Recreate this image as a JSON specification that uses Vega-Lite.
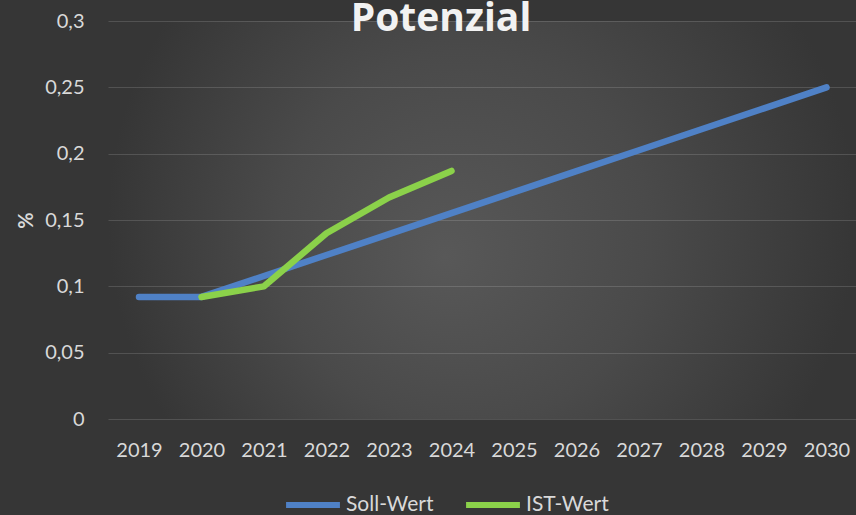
{
  "$schema": "https://vega.github.io/schema/vega-lite/v6.json",
  "width": 748,
  "height": 398,
  "autosize": {"type": "none"},
  "padding": {"left": 108, "top": 21, "right": 0, "bottom": 96},
  "background": "#363636",
  "view": {
    "stroke": null,
    "fill": {
      "gradient": "radial",
      "x1": 0.45, "y1": 0.55, "r1": 0,
      "x2": 0.5, "y2": 0.5, "r2": 0.5,
      "stops": [
        {"offset": 0, "color": "#585858"},
        {"offset": 0.5, "color": "#4a4a4a"},
        {"offset": 1, "color": "#363636"}
      ]
    }
  },
  "title": {
    "text": "Potenzial",
    "font": "Open Sans",
    "fontSize": 39,
    "fontWeight": "bold",
    "color": "#f2f2f2",
    "anchor": "middle",
    "baseline": "alphabetic",
    "offset": -59,
    "dx": -41
  },
  "data": {
    "values": [
      {"Jahr": 2019, "Serie": "Soll-Wert", "Wert": 0.092},
      {"Jahr": 2020, "Serie": "Soll-Wert", "Wert": 0.092},
      {"Jahr": 2021, "Serie": "Soll-Wert", "Wert": 0.1078},
      {"Jahr": 2022, "Serie": "Soll-Wert", "Wert": 0.1236},
      {"Jahr": 2023, "Serie": "Soll-Wert", "Wert": 0.1394},
      {"Jahr": 2024, "Serie": "Soll-Wert", "Wert": 0.1552},
      {"Jahr": 2025, "Serie": "Soll-Wert", "Wert": 0.171},
      {"Jahr": 2026, "Serie": "Soll-Wert", "Wert": 0.1868},
      {"Jahr": 2027, "Serie": "Soll-Wert", "Wert": 0.2026},
      {"Jahr": 2028, "Serie": "Soll-Wert", "Wert": 0.2184},
      {"Jahr": 2029, "Serie": "Soll-Wert", "Wert": 0.2342},
      {"Jahr": 2030, "Serie": "Soll-Wert", "Wert": 0.25},
      {"Jahr": 2020, "Serie": "IST-Wert", "Wert": 0.092},
      {"Jahr": 2021, "Serie": "IST-Wert", "Wert": 0.1},
      {"Jahr": 2022, "Serie": "IST-Wert", "Wert": 0.14},
      {"Jahr": 2023, "Serie": "IST-Wert", "Wert": 0.167},
      {"Jahr": 2024, "Serie": "IST-Wert", "Wert": 0.187}
    ]
  },
  "mark": {"type": "line", "strokeWidth": 6.5, "strokeCap": "round", "strokeJoin": "round"},
  "encoding": {
    "x": {
      "field": "Jahr",
      "type": "quantitative",
      "scale": {"domain": [2018.504, 2030.472], "nice": false, "zero": false},
      "axis": {
        "values": [2019, 2020, 2021, 2022, 2023, 2024, 2025, 2026, 2027, 2028, 2029, 2030],
        "format": "d",
        "title": null,
        "grid": false,
        "ticks": false,
        "domain": false,
        "labelFont": "Lato",
        "labelFontSize": 20,
        "labelColor": "#d9d9d9",
        "labelPadding": 21,
        "labelFlush": false,
        "labelOverlap": false
      }
    },
    "y": {
      "field": "Wert",
      "type": "quantitative",
      "scale": {"domain": [0, 0.3], "nice": false},
      "axis": {
        "values": [0, 0.05, 0.1, 0.15, 0.2, 0.25, 0.3],
        "labelExpr": "replace(toString(datum.value), '.', ',')",
        "title": "%",
        "titleFont": "Lato",
        "titleFontSize": 20,
        "titleFontWeight": "bold",
        "titleColor": "#d9d9d9",
        "titlePadding": 8,
        "grid": true,
        "gridColor": "#ffffff",
        "gridOpacity": 0.14,
        "gridWidth": 1.2,
        "ticks": false,
        "domain": false,
        "labelFont": "Lato",
        "labelFontSize": 20,
        "labelColor": "#d9d9d9",
        "labelPadding": 24,
        "labelFlush": false,
        "labelOverlap": false
      }
    },
    "color": {
      "field": "Serie",
      "type": "nominal",
      "scale": {"domain": ["Soll-Wert", "IST-Wert"], "range": ["#4f81c6", "#8bd14a"]},
      "legend": {
        "title": null,
        "orient": "none",
        "direction": "horizontal",
        "legendX": 175,
        "legendY": 454,
        "padding": 0,
        "symbolType": "stroke",
        "symbolSize": 2900,
        "symbolStrokeWidth": 6,
        "labelFont": "Lato",
        "labelFontSize": 21,
        "labelColor": "#d9d9d9",
        "labelOffset": 3,
        "columnPadding": 20
      }
    }
  }
}
